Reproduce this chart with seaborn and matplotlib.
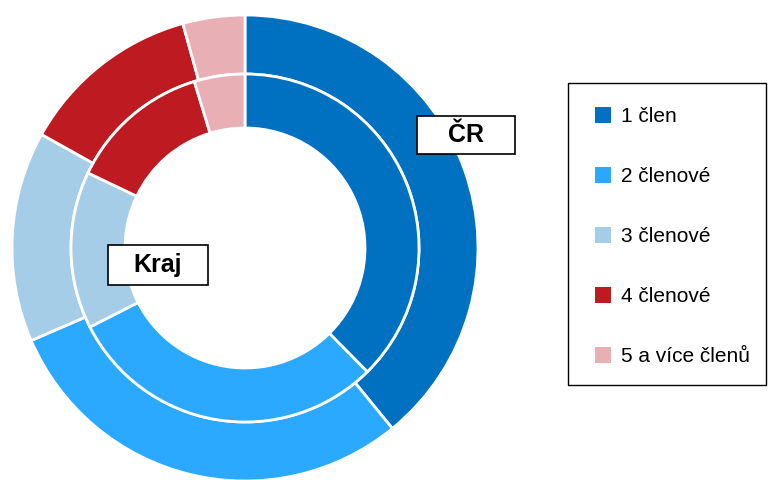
import matplotlib
matplotlib.use("Agg")
import matplotlib.pyplot as plt
from matplotlib.patches import Patch, Rectangle
import seaborn as sns

# ----------------------------------------------------------------
# Data (shares in %)
# ----------------------------------------------------------------
categories = ["1 člen", "2 členové", "3 členové", "4 členové", "5 a více členů"]
cr_values = [39.1, 29.4, 14.6, 12.6, 4.3]      # outer ring
kraj_values = [37.6, 29.9, 14.6, 13.2, 4.7]    # inner ring
colors = ["#0070C0", "#2BA8FF", "#A6CDE8", "#BE1A22", "#E8B0B4"]

sns.set_theme(style="white")
plt.rcParams["font.family"] = ["Liberation Sans", "DejaVu Sans"]
plt.rcParams["text.color"] = "black"

W, H = 769, 480
fig = plt.figure(figsize=(W / 100, H / 100), dpi=100)

# pie axes: centre (245, 248) px, outer radius 233 px
cx, cy, R = 245, 248, 233
ax = fig.add_axes([(cx - R) / W, (H - cy - R) / H, 2 * R / W, 2 * R / H])

r_mid = 174 / R
r_hole = 120 / R
wedge_kw = dict(edgecolor="white", linewidth=2)

ax.pie(cr_values, colors=colors, radius=1, startangle=90, counterclock=False,
       wedgeprops=dict(width=1 - r_mid, **wedge_kw))
ax.pie(kraj_values, colors=colors, radius=r_mid, startangle=90, counterclock=False,
       wedgeprops=dict(width=r_mid - r_hole, **wedge_kw))
ax.set_xlim(-1, 1)
ax.set_ylim(-1, 1)
ax.set_aspect("equal")
ax.axis("off")


def fig_box(x0, y0, x1, y1, lw):
    fig.patches.append(Rectangle((x0 / W, 1 - y1 / H), (x1 - x0) / W, (y1 - y0) / H,
                                 transform=fig.transFigure, facecolor="white",
                                 edgecolor="black", linewidth=lw, zorder=5))


# ring labels with boxes
def box_label(text, x0, y0, x1, y1):
    fig_box(x0, y0, x1, y1, 1.2)
    fig.text((x0 + x1) / 2 / W, 1 - (y0 + y1) / 2 / H, text, ha="center", va="center",
             fontsize=18, fontweight="bold", color="black", zorder=6)


box_label("ČR", 417, 116, 515, 154)
box_label("Kraj", 108, 245, 208, 285)

# legend (frame drawn separately)
fig_box(568, 83, 766, 385, 1)
handles = [Patch(facecolor=c, edgecolor="none") for c in colors]
leg = fig.legend(handles, categories, loc="upper left",
                 bbox_to_anchor=(595 / W, 1 - 107 / H), borderaxespad=0,
                 fontsize=15, frameon=False, handlelength=0.77, handleheight=0.77,
                 handletextpad=0.5, labelspacing=1.97, borderpad=0)
leg.set_zorder(6)

fig.savefig("out.png", dpi=100)
